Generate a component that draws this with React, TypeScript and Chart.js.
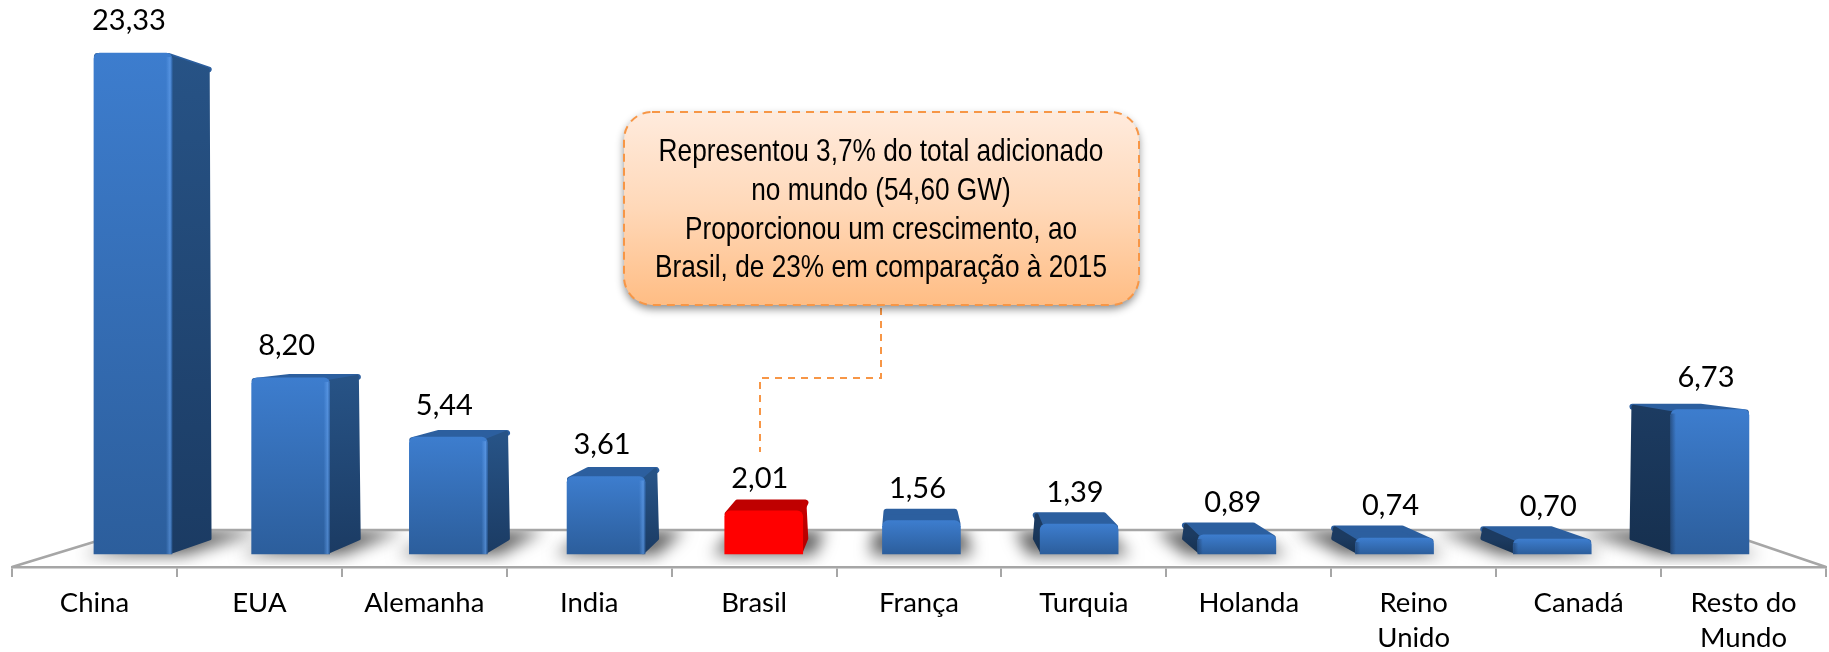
import React, { useEffect, useRef } from "react";
import { Chart, registerables } from "chart.js";

Chart.register(...registerables);

const categories: (string | string[])[] = [
  "China", "EUA", "Alemanha", "India", "Brasil", "França", "Turquia",
  "Holanda", ["Reino", "Unido"], "Canadá", ["Resto do", "Mundo"],
];
const values = [23.33, 8.2, 5.44, 3.61, 2.01, 1.56, 1.39, 0.89, 0.74, 0.7, 6.73];
const highlighted = "Brasil";
const calloutLines = [
  "Representou 3,7% do total adicionado",
  "no mundo (54,60 GW)",
  "Proporcionou um crescimento, ao",
  "Brasil, de 23% em comparação à 2015",
];

const W = 1829;
const H = 652;
const VX = 905; // vanishing point of the 3D depth
const VY = 303;
const K = 0.054; // depth of bar
const FLOOR_K = 0.11;
const GREY = "#A6A6A6";
const ORANGE = "#F79646";
const LABEL_FONT = "Lato, Carlito, sans-serif";

const isHi = (i: number) => categories[i] === highlighted;
const back = (x: number, y: number, k = K): [number, number] => [x + (VX - x) * k, y + (VY - y) * k];

function poly(c: CanvasRenderingContext2D, pts: [number, number][]) {
  c.beginPath();
  pts.forEach((p, i) => (i ? c.lineTo(p[0], p[1]) : c.moveTo(p[0], p[1])));
  c.closePath();
}

function roundBox(c: CanvasRenderingContext2D, x: number, y: number, w: number, h: number, r: number) {
  c.beginPath();
  c.roundRect(x, y, w, h, r);
}

const scenePlugin = {
  id: "scene",
  beforeDraw(chart: any) {
    const c: CanvasRenderingContext2D = chart.ctx;
    const { left, right, bottom } = chart.chartArea;
    const backY = 530;
    const backL = 133;
    const backR = 1717;
    c.save();
    // floor
    poly(c, [[left, bottom], [right, bottom], [backR, backY], [backL, backY]]);
    c.fillStyle = "#fff";
    c.fill();
    c.save();
    poly(c, [[left, bottom - 2], [right, bottom - 2], [backR, backY], [backL, backY]]);
    c.clip();
    // soft shadow that every bar throws on the floor (the shape itself is drawn off-canvas)
    const y0 = chart.scales.y.getPixelForValue(0);
    const OFF = 4000;
    chart.getDatasetMeta(0).data.forEach((bar: any) => {
      const hw = bar.width / 2;
      const l = bar.x - hw - 12;
      const r = bar.x + hw + 12;
      const bl = back(l, y0, FLOOR_K);
      const br = back(r, y0, FLOOR_K);
      c.shadowColor = "rgba(0,0,0,0.62)";
      c.shadowBlur = 16;
      c.shadowOffsetX = OFF;
      c.shadowOffsetY = 0;
      c.fillStyle = "#000";
      poly(c, [[l - OFF, y0 + 1], [r - OFF, y0 + 1], [br[0] - OFF, backY], [bl[0] - OFF, backY]]);
      c.fill();
    });
    c.restore();
    c.strokeStyle = GREY;
    c.lineWidth = 2.5;
    c.lineJoin = "round";
    c.beginPath();
    c.moveTo(left, bottom);
    c.lineTo(backL, backY);
    c.lineTo(backR, backY);
    c.lineTo(right, bottom);
    c.stroke();
    c.restore();
  },
  beforeDatasetsDraw(chart: any) {
    const c: CanvasRenderingContext2D = chart.ctx;
    const y0 = chart.scales.y.getPixelForValue(0);
    chart.getDatasetMeta(0).data.forEach((bar: any, i: number) => {
      const hw = bar.width / 2;
      const l = bar.x - hw;
      const r = bar.x + hw;
      const t = bar.y;
      const hi = isHi(i);
      const inset = 3;
      const bTL = back(l + inset, t);
      const bTR = back(r - inset, t);
      const bBL = back(l, y0);
      const bBR = back(r, y0);
      c.save();
      c.lineJoin = "round";
      c.lineWidth = inset * 2;
      const topColor = hi ? "#BF0000" : "#2C5F9F";
      poly(c, [[l + inset, t + inset], [r - inset, t + inset], [bTR[0], bTR[1] + inset], [bTL[0], bTL[1] + inset]]);
      c.fillStyle = topColor;
      c.strokeStyle = topColor;
      c.fill();
      c.stroke();
      const rightSide = bTR[0] > r - inset;
      const leftSide = bTL[0] < l + inset;
      const grad = c.createLinearGradient(0, t, 0, y0);
      if (hi) {
        grad.addColorStop(0, "#C40000");
        grad.addColorStop(1, "#B00000");
      } else if (rightSide) {
        grad.addColorStop(0, "#275386");
        grad.addColorStop(1, "#1B3B63");
      } else {
        grad.addColorStop(0, "#1C3B61");
        grad.addColorStop(1, "#16304F");
      }
      c.fillStyle = grad;
      c.strokeStyle = grad;
      c.lineWidth = 4;
      if (rightSide) {
        poly(c, [[r - 2, t + 4], [bTR[0] - 1, bTR[1] + 3], [bBR[0] - 2, bBR[1] - 2], [r - 2, y0 - 2]]);
        c.fill();
        c.stroke();
      }
      if (leftSide) {
        poly(c, [[l + 2, t + 4], [bTL[0] + 1, bTL[1] + 3], [bBL[0] + 2, bBL[1] - 2], [l + 2, y0 - 2]]);
        c.fill();
        c.stroke();
      }
      c.restore();
    });
  },
  afterDatasetsDraw(chart: any) {
    const c: CanvasRenderingContext2D = chart.ctx;
    const y0 = chart.scales.y.getPixelForValue(0);
    const bars = chart.getDatasetMeta(0).data;
    c.save();
    bars.forEach((bar: any, i: number) => {
      if (isHi(i)) return;
      const hw = bar.width / 2;
      const l = bar.x - hw;
      const r = bar.x + hw;
      // bevelled edge beside the depth face
      if (r < VX - 200) {
        const g = c.createLinearGradient(r - 6, 0, r, 0);
        g.addColorStop(0, "rgba(110,170,245,0)");
        g.addColorStop(0.7, "rgba(110,170,245,0.5)");
        g.addColorStop(1, "rgba(40,80,130,0.4)");
        c.fillStyle = g;
        c.fillRect(r - 6, bar.y + 4, 6, y0 - bar.y - 4);
      } else if (l > VX + 200) {
        const g = c.createLinearGradient(l, 0, l + 5, 0);
        g.addColorStop(0, "rgba(25,50,85,0.5)");
        g.addColorStop(1, "rgba(25,50,85,0)");
        c.fillStyle = g;
        c.fillRect(l, bar.y + 4, 5, y0 - bar.y - 4);
      }
    });
    // value labels
    c.fillStyle = "#000";
    c.font = `29px ${LABEL_FONT}`;
    c.textAlign = "center";
    c.textBaseline = "middle";
    bars.forEach((bar: any, i: number) => {
      c.fillText(values[i].toFixed(2).replace(".", ","), bar.x - 4, bar.y - 32);
    });

    // callout leader
    c.strokeStyle = ORANGE;
    c.lineWidth = 2;
    c.setLineDash([7, 6]);
    c.beginPath();
    c.moveTo(881, 308);
    c.lineTo(881, 378);
    c.lineTo(760, 378);
    c.lineTo(760, 452);
    c.stroke();

    // callout box
    const bx = 624, by = 112, bw = 515, bh = 193, br = 28;
    c.setLineDash([]);
    c.save();
    c.shadowColor = "rgba(0,0,0,0.45)";
    c.shadowBlur = 9;
    c.shadowOffsetY = 4;
    c.shadowOffsetX = 0;
    const fill = c.createLinearGradient(0, by, 0, by + bh);
    fill.addColorStop(0, "#FFEBDD");
    fill.addColorStop(0.5, "#FFD8B8");
    fill.addColorStop(1, "#FFBD84");
    c.fillStyle = fill;
    roundBox(c, bx, by, bw, bh, br);
    c.fill();
    c.restore();
    c.setLineDash([8, 6]);
    c.strokeStyle = ORANGE;
    c.lineWidth = 2;
    roundBox(c, bx, by, bw, bh, br);
    c.stroke();
    c.setLineDash([]);

    // callout text (a tall, condensed sans)
    c.fillStyle = "#000";
    c.font = `32px "Liberation Sans", Arial, sans-serif`;
    const sx = 452 / c.measureText(calloutLines[3]).width;
    const rows = [152, 191, 230, 268];
    calloutLines.forEach((line, i) => {
      c.save();
      c.translate(881, rows[i]);
      c.scale(sx, 1);
      c.fillText(line, 0, 0);
      c.restore();
    });
    c.restore();
  },
};

export default function App() {
  const ref = useRef<HTMLCanvasElement>(null);
  useEffect(() => {
    if (!ref.current) return;
    const chart = new Chart(ref.current, {
      type: "bar",
      data: {
        labels: categories as any,
        datasets: [
          {
            xAxisID: "xBars",
            data: values.map((y, x) => ({ x, y })) as any,
            barThickness: 78,
            borderWidth: 0,
            borderRadius: { topLeft: 6, topRight: 6, bottomLeft: 0, bottomRight: 0 },
            backgroundColor: (ctx: any) => {
              const i = ctx.dataIndex;
              if (i === undefined) return "#3B7AC9";
              if (isHi(i)) return "#FF0000";
              const s = ctx.chart.scales.y;
              const a = s ? s.getPixelForValue(values[i]) : NaN;
              const b = s ? s.getPixelForValue(0) : NaN;
              if (!Number.isFinite(a) || !Number.isFinite(b)) return "#3B7AC9";
              const g = ctx.chart.ctx.createLinearGradient(0, a, 0, b);
              g.addColorStop(0, "#3D7DCE");
              g.addColorStop(1, "#2C5E9C");
              return g;
            },
          },
        ],
      },
      options: {
        responsive: false,
        animation: false,
        layout: { padding: { left: 12, right: 3, top: 0, bottom: 0 } },
        plugins: { legend: { display: false }, tooltip: { enabled: false } },
        scales: {
          x: {
            type: "category",
            offset: true,
            afterFit(scale: any) {
              scale.height = H - 567;
            },
            border: { color: GREY, width: 2.5 },
            grid: { offset: true, drawOnChartArea: false, drawTicks: true, tickLength: 10, color: GREY, lineWidth: 2 },
            ticks: {
              autoSkip: false,
              maxRotation: 0,
              minRotation: 0,
              padding: 9,
              color: "#000",
              font: { family: LABEL_FONT, size: 27.5, lineHeight: 35 / 27.5 },
            },
          },
          xBars: {
            type: "linear",
            display: false,
            offset: false,
            min: -0.767,
            max: 10.736,
            grid: { display: false },
          },
          y: {
            display: false,
            min: -0.605,
            max: 25.8,
            grid: { display: false },
          },
        },
      } as any,
      plugins: [scenePlugin as any],
    });
    return () => chart.destroy();
  }, []);
  return (
    <canvas
      ref={ref}
      width={W}
      height={H}
      style={{ position: "absolute", left: 0, top: 0, width: W, height: H, display: "block", background: "#fff" }}
    />
  );
}
